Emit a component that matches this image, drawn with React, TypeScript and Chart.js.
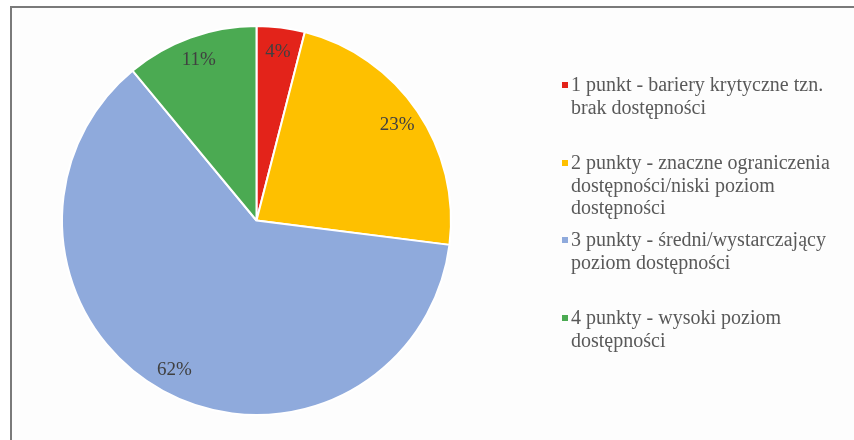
import React, { useEffect, useRef } from "react";
import { Chart, registerables } from "chart.js";

Chart.register(...registerables);

const categories = [
  "1 punkt - bariery krytyczne tzn. brak dostępności",
  "2 punkty - znaczne ograniczenia dostępności/niski poziom dostępności",
  "3 punkty - średni/wystarczający poziom dostępności",
  "4 punkty - wysoki poziom dostępności",
];
const legendLines = [
  ["1 punkt - bariery krytyczne tzn.", "brak dostępności"],
  ["2 punkty - znaczne ograniczenia", "dostępności/niski poziom", "dostępności"],
  ["3 punkty - średni/wystarczający", "poziom dostępności"],
  ["4 punkty - wysoki poziom", "dostępności"],
];
const values = [4, 23, 62, 11];
const percentLabels = ["4%", "23%", "62%", "11%"];
const colors = ["#E3231A", "#FEC000", "#8FAADC", "#4BAA52"];

const FONT = "'Liberation Serif', 'Times New Roman', serif";

const labelsPlugin = {
  id: "sliceLabels",
  afterDatasetsDraw(chart: any) {
    const ctx = chart.ctx;
    const meta = chart.getDatasetMeta(0);
    ctx.save();
    ctx.font = `19px ${FONT}`;
    ctx.fillStyle = "#404040";
    ctx.textAlign = "center";
    ctx.textBaseline = "middle";
    meta.data.forEach((arc: any, i: number) => {
      const { x, y, startAngle, endAngle, outerRadius } = arc.getProps(
        ["x", "y", "startAngle", "endAngle", "outerRadius"],
        true
      );
      const mid = (startAngle + endAngle) / 2;
      const r = outerRadius * 0.875;
      ctx.fillText(percentLabels[i], x + Math.cos(mid) * r, y + Math.sin(mid) * r);
    });
    ctx.restore();
  },
};

const legendPlugin = {
  id: "customLegend",
  afterDraw(chart: any) {
    const ctx = chart.ctx;
    const starts = [85, 163, 240, 318];
    const lineH = 22.5;
    ctx.save();
    ctx.font = `20px ${FONT}`;
    ctx.textBaseline = "middle";
    ctx.textAlign = "left";
    legendLines.forEach((lines, i) => {
      ctx.fillStyle = colors[i];
      ctx.fillRect(562, starts[i] - 3, 6, 6);
      ctx.fillStyle = "#595959";
      lines.forEach((t, j) => {
        ctx.fillText(t, 571, starts[i] + j * lineH + 1);
      });
    });
    ctx.restore();
  },
};

export default function App() {
  const ref = useRef<HTMLCanvasElement | null>(null);
  useEffect(() => {
    if (!ref.current) return;
    const chart = new Chart(ref.current, {
      type: "pie",
      data: {
        labels: categories,
        datasets: [
          {
            data: values,
            backgroundColor: colors,
            borderColor: "#ffffff",
            borderWidth: 2,
          },
        ],
      },
      options: {
        animation: false,
        responsive: false,
        maintainAspectRatio: false,
        layout: { padding: { left: 61, top: 25, right: 402, bottom: 24 } },
        plugins: {
          legend: { display: false },
          tooltip: { enabled: false },
          title: { display: false },
        },
      },
      plugins: [labelsPlugin, legendPlugin],
    });
    return () => chart.destroy();
  }, []);
  return (
    <div
      style={{
        position: "fixed",
        left: 0,
        top: 0,
        width: 854,
        height: 440,
        overflow: "hidden",
        background: "#ffffff",
      }}
    >
      <div
        style={{
          position: "absolute",
          left: 10,
          top: 6,
          width: 900,
          height: 500,
          border: "2px solid #7a7a7a",
          background: "#fdfdfd",
        }}
      />
      <canvas
        ref={ref}
        width={854}
        height={440}
        style={{ position: "absolute", left: 0, top: 0, width: 854, height: 440 }}
      />
    </div>
  );
}
